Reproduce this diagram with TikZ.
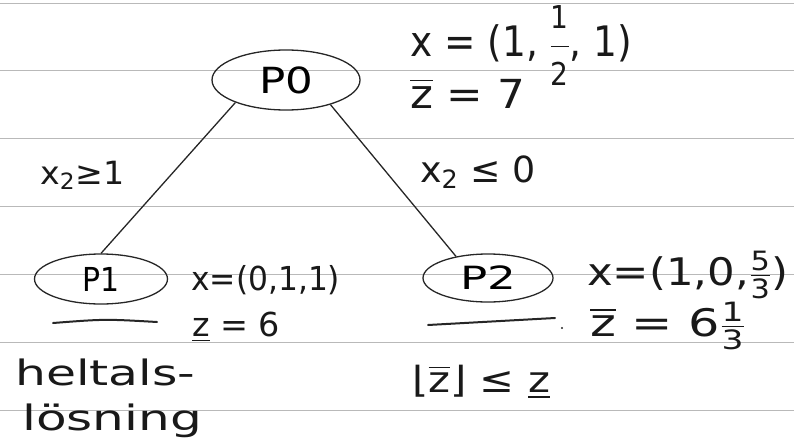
\RequirePackage{fix-cm}
\documentclass[tikz,border=0pt]{standalone}
\usepackage{amsmath,amssymb}
\usepackage{graphicx}
\usepackage{fontspec}
\setmainfont{DejaVu Sans}
\usetikzlibrary{shapes.geometric}
\newcommand\fitto[2]{\resizebox{#1}{\height}{#2}}
\newcommand\fr[2]{$\frac{\text{#1}}{\text{#2}}$}
\newcommand\bigfr[2]{$\dfrac{\text{\scalebox{0.75}{#1}}}{\text{\scalebox{0.75}{#2}}}$}
\newcommand\zbar{$\overline{\text{z}}$}
\begin{document}
\begin{tikzpicture}[x=1pt,y=-1pt,
 rule/.style={draw=gray!55, line width=0.7pt},
 pen/.style={line width=1.3pt, draw=black!85},
 prob/.style={ellipse, draw=black!85, line width=1.3pt, inner sep=0pt},
 lbl/.style={anchor=base west, inner sep=0pt, text=black!90},
 uline/.style={line width=2pt, draw=black!85, line cap=round},
]
\useasboundingbox (0,0) rectangle (794,441);
\foreach \y in {3,70,138,206,274,342,410} \draw[rule] (0,\y) -- (794,\y);

\node[prob, minimum width=148pt, minimum height=60pt, font=\fontsize{36}{40}\selectfont] (p0) at (286,80) {\fitto{54pt}{P0}};
\node[prob, minimum width=133pt, minimum height=50pt, font=\fontsize{33}{40}\selectfont] (p1) at (101,279) {\fitto{37pt}{P1}};
\node[prob, minimum width=130pt, minimum height=48pt, font=\fontsize{32}{40}\selectfont] (p2) at (488,278) {\fitto{56pt}{P2}};

\draw[pen] (p0.204) -- (p1.north);
\draw[pen] (p0.331) -- (p2.146);

\node[lbl, font=\fontsize{42}{44}\selectfont] (t0x) at (410,57) {\fitto{222pt}{x = (1, \bigfr{1}{2}, 1)}};
\node[lbl, font=\fontsize{40}{44}\selectfont] (t0z) at (410,108) {\fitto{115pt}{\zbar{} = 7}};
\node[lbl, font=\fontsize{32}{44}\selectfont] (e1) at (40,184) {\fitto{84pt}{x$_{\text{2}}$≥1}};
\node[lbl, font=\fontsize{36}{44}\selectfont] (e2) at (420,182) {\fitto{115pt}{x$_{\text{2}}$ ≤ 0}};
\node[lbl, font=\fontsize{33}{44}\selectfont] (t1x) at (191,290) {\fitto{149pt}{x=(0,1,1)}};
\node[lbl, font=\fontsize{33}{44}\selectfont] (t1z) at (192,336) {\fitto{88pt}{\underline{z} = 6}};
\node[lbl, font=\fontsize{35}{44}\selectfont] (h1) at (15,385) {\fitto{180pt}{heltals-}};
\node[lbl, font=\fontsize{35}{44}\selectfont] (h2) at (22,430) {\fitto{180pt}{lösning}};
\node[lbl, font=\fontsize{38}{44}\selectfont] (t2x) at (587,285) {\fitto{201pt}{x=(1,0,\fr{5}{3})}};
\node[lbl, font=\fontsize{38}{44}\selectfont] (t2z) at (590,336) {\fitto{155pt}{\zbar{} = 6\fr{1}{3}}};
\node[lbl, font=\fontsize{36}{44}\selectfont] (fl) at (412,392) {\fitto{138pt}{⌊\zbar⌋ ≤ \underline{z}}};

\draw[uline] (53,323) .. controls (105,319) .. (157,322);
\draw[uline] (428,325) -- (555,318);
\fill[black!85] (562,328) circle (1.2pt);
\end{tikzpicture}
\end{document}
